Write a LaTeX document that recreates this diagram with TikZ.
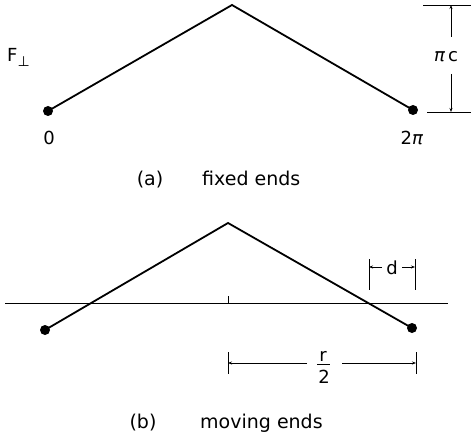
\documentclass[tikz,border=0pt]{standalone}
\usepackage{fontspec}
\setmainfont{DejaVu Sans}
\usetikzlibrary{arrows.meta}
\begin{document}
\begin{tikzpicture}[x=1pt,y=-1pt,
  main/.style={line width=1.8pt,line join=miter},
  dot/.style={circle,fill=black,inner sep=0pt,minimum size=10pt},
  dim/.style={line width=0.8pt},
  dimarr/.style={line width=0.8pt,-{Stealth[length=4pt,width=3pt]}},
  lbl/.style={inner sep=0pt,font=\fontsize{18}{18}\selectfont},
  captxt/.style={inner sep=0pt,anchor=base,font=\fontsize{19}{19}\selectfont}]
\useasboundingbox (0,0) rectangle (471,441);
% ---------- (a) fixed ends ----------
\node[dot] (a0) at (48,111) {};
\node[dot] (a2) at (413,110) {};
\coordinate (atop) at (232,5);
\draw[main] (a0.center) -- (atop) -- (a2.center);
\node[lbl,anchor=base west] (F) at (7,62) {F\raisebox{-5pt}{\fontsize{14}{14}\selectfont ⊥}};
\node[lbl,anchor=base] (l0) at (49,144) {0};
\node[lbl,anchor=base] (l2) at (412,144) {2\textit{π}};
% pi c dimension
\coordinate (t1) at (423,5);  \coordinate (t2) at (471,5);
\coordinate (b1) at (427,112);\coordinate (b2) at (471,112);
\draw[dim] (t1) -- (t2);
\draw[dim] (b1) -- (b2);
\node[lbl] (pic) at (446,57) {\textit{π}\,c};
\coordinate (vt) at (451,5);  \coordinate (vb) at (451,112);
\coordinate (vtm) at (451,37);\coordinate (vbm) at (451,74);
\draw[dimarr] (vtm) -- (vt);
\draw[dimarr] (vbm) -- (vb);
\node[captxt] (capa1) at (150,185) {(a)};
\node[captxt,anchor=base west] (capa2) at (202,185) {fixed ends};
% ---------- (b) moving ends ----------
\node[dot] (bl) at (45,330) {};
\node[dot] (br) at (412,328) {};
\coordinate (btop) at (228,223);
\draw[main] (bl.center) -- (btop) -- (br.center);
\coordinate (h1) at (5,303); \coordinate (h2) at (448,303);
\draw[dim] (h1) -- (h2);
\coordinate (tk1) at (228,296); \coordinate (tk2) at (228,303);
\draw[dim] (tk1) -- (tk2);
% d dimension
\coordinate (d1t) at (369,259); \coordinate (d1b) at (369,290);
\coordinate (d2t) at (415,259); \coordinate (d2b) at (415,290);
\draw[dim] (d1t) -- (d1b);
\draw[dim] (d2t) -- (d2b);
\node[lbl] (d) at (392,268) {d};
\coordinate (dl) at (369,267); \coordinate (dr) at (415,267);
\coordinate (dlm) at (382,267); \coordinate (drm) at (402,267);
\draw[dimarr] (dlm) -- (dl);
\draw[dimarr] (drm) -- (dr);
% r/2 dimension
\coordinate (r1t) at (228,352); \coordinate (r1b) at (228,374);
\coordinate (r2t) at (416,352); \coordinate (r2b) at (416,374);
\draw[dim] (r1t) -- (r1b);
\draw[dim] (r2t) -- (r2b);
\node[lbl] (rr) at (323,356) {r};
\node[lbl] (r2) at (324,377) {2};
\coordinate (fb1) at (317,364); \coordinate (fb2) at (330,364);
\draw[dim] (fb1) -- (fb2);
\coordinate (rl) at (228,363); \coordinate (rlm) at (307,363);
\coordinate (rr2) at (416,363); \coordinate (rrm) at (342,363);
\draw[dimarr] (rlm) -- (rl);
\draw[dimarr] (rrm) -- (rr2);
\node[captxt] (capb1) at (143,428) {(b)};
\node[captxt,anchor=base west] (capb2) at (200,428) {moving ends};
\end{tikzpicture}
\end{document}
